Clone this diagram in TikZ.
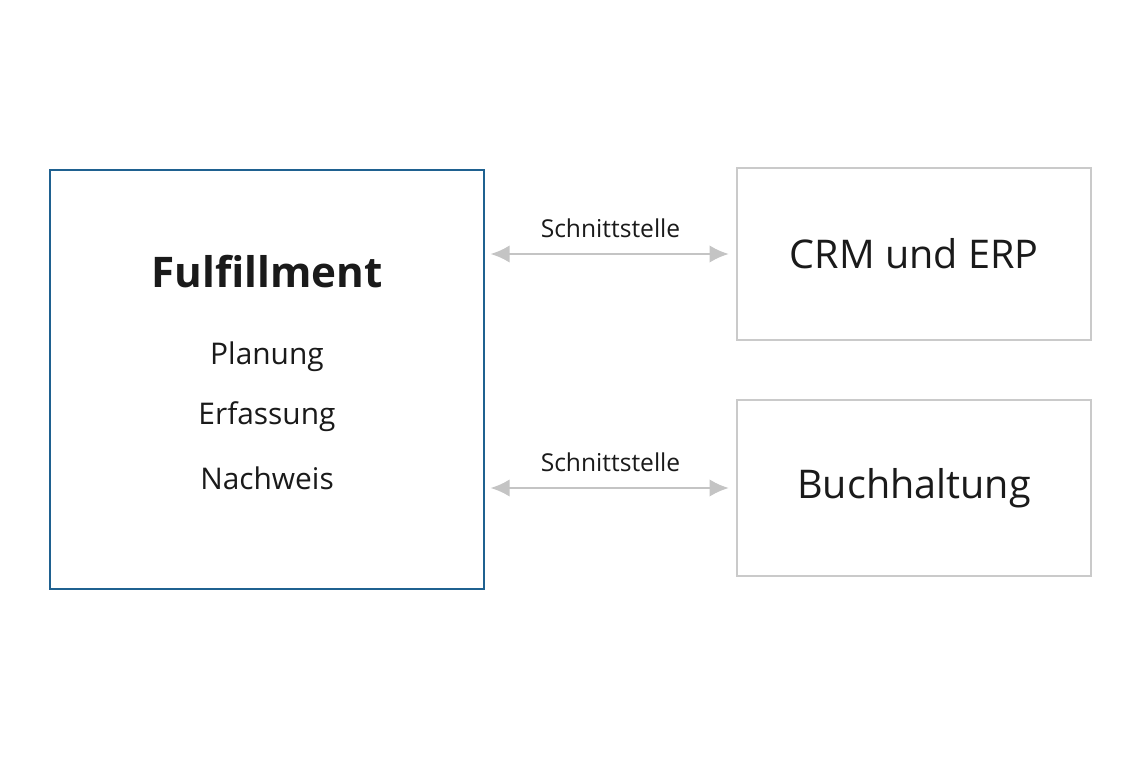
\documentclass[tikz,border=0pt]{standalone}
\usepackage{fontspec}
\setmainfont{Open Sans}
\usetikzlibrary{arrows.meta,positioning}
\definecolor{fulblue}{HTML}{1F6190}
\definecolor{boxgray}{HTML}{CACACA}
\definecolor{arrgray}{HTML}{C4C4C4}
\definecolor{txt}{HTML}{1A1A1A}
\tikzset{
	sysbox/.style={draw=boxgray, line width=1.3pt, minimum width=7.08cm, text=txt, font=\fontsize{22.5}{27}\selectfont},
	link/.style={draw=arrgray, line width=1.5pt, {Latex[length=11pt,width=10pt]}-{Latex[length=11pt,width=10pt]}, shorten <=3pt, shorten >=4pt},
	linklabel/.style={text=txt, font=\fontsize{14}{17}\selectfont},
	task/.style={text=txt, font=\fontsize{17}{20}\selectfont}
}
\begin{document}
\begin{tikzpicture}
	\useasboundingbox[fill=white] (0,0) rectangle (22.8,15.2);
	\node[draw=fulblue, line width=1.3pt, minimum width=8.68cm, minimum height=8.38cm] (fulfil) at (5.34,7.61) {};
	\node[text=txt, font=\fontsize{24}{29}\selectfont\bfseries] (fultitle) at (5.34,9.76) {Fulfillment};
	\node[task] (planung) at (5.34,8.06) {Planung};
	\node[task] (erfassung) at (5.34,6.86) {Erfassung};
	\node[task] (nachweis) at (5.34,5.64) {Nachweis};

	\node[sysbox, minimum height=3.44cm] (crm) at (18.28,10.12) {CRM und ERP};
	\node[sysbox, minimum height=3.52cm] (buch) at (18.28,5.44) {Buchhaltung};

	\draw[link] (fulfil.east |- crm.west) -- (crm.west) node[midway, above=5pt, linklabel] {Schnittstelle};
	\draw[link] (fulfil.east |- buch.west) -- (buch.west) node[midway, above=5pt, linklabel] {Schnittstelle};
\end{tikzpicture}
\end{document}
